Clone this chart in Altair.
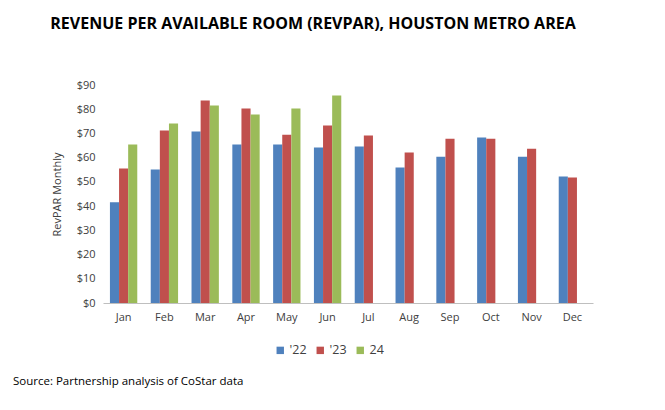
import altair as alt
import pandas as pd

months = ["Jan", "Feb", "Mar", "Apr", "May", "Jun", "Jul", "Aug", "Sep", "Oct", "Nov", "Dec"]
rev_22 = [41.6, 55.1, 70.8, 65.4, 65.4, 64.2, 64.6, 55.9, 60.4, 68.3, 60.4, 52.2]
rev_23 = [55.5, 71.2, 83.6, 80.3, 69.5, 73.3, 69.1, 62.1, 67.8, 67.8, 63.7, 51.8]
rev_24 = [65.4, 74.1, 81.5, 77.8, 80.3, 85.7]
series = ["'22", "'23", "24"]
colors = ["#4F81BD", "#C0504D", "#9BBB59"]

rows = []
for name, vals in zip(series, [rev_22, rev_23, rev_24]):
    for m, v in zip(months, vals):
        rows.append({"month": m, "series": name, "value": v})
df = pd.DataFrame(rows)

FONT = "Open Sans"

bars = alt.Chart(df).mark_bar().encode(
    x=alt.X("month:N", sort=months,
            scale=alt.Scale(paddingInner=0.33, paddingOuter=0.17),
            axis=alt.Axis(title=None, labelAngle=0, ticks=False, domainColor="#BFBFBF",
                          labelPadding=8, labelFontSize=11, labelColor="#404040", labelFont=FONT)),
    xOffset=alt.XOffset("series:N", scale=alt.Scale(domain=series)),
    y=alt.Y("value:Q", scale=alt.Scale(domain=[0, 90], nice=False),
            axis=alt.Axis(title="RevPAR Monthly", values=list(range(0, 100, 10)), format="$,.0f",
                          grid=False, domain=False, ticks=False, labelPadding=8,
                          labelFontSize=11, labelColor="#404040", labelFont=FONT,
                          titleFontSize=11, titleFontWeight="normal", titleColor="#404040",
                          titleFont=FONT, titlePadding=14)),
    color=alt.Color("series:N", scale=alt.Scale(domain=series, range=colors),
                    legend=alt.Legend(title=None, orient="none", direction="horizontal",
                                      legendX=171, legendY=259, symbolType="square",
                                      symbolSize=55, symbolStrokeWidth=0, labelFontSize=12.5,
                                      labelFont=FONT, labelColor="#404040", columnPadding=7,
                                      labelOffset=3)),
)

source = alt.Chart(pd.DataFrame({"t": ["Source: Partnership analysis of CoStar data"]})).mark_text(
    align="left", baseline="middle", fontSize=11.5, font=FONT, color="#000000"
).encode(x=alt.value(-90), y=alt.value(297), text="t:N")

chart = alt.layer(bars, source).properties(
    width=490, height=218,
    autosize=alt.AutoSizeParams(type="none"),
    padding={"left": 95, "top": 77, "right": 50, "bottom": 100},
    title=alt.TitleParams("REVENUE PER AVAILABLE ROOM (REVPAR), HOUSTON METRO AREA",
                          font=FONT, fontSize=16, fontWeight="bold", color="#000000",
                          anchor="middle", dx=-35, offset=47),
).configure_view(stroke=None)

chart.save("out.html", embed_options={"renderer": "svg", "actions": False})
